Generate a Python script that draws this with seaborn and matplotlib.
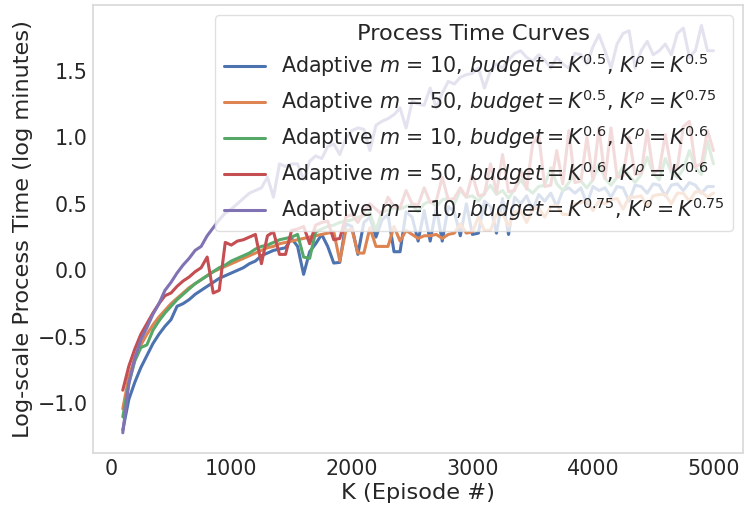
import numpy as np
import pandas as pd
import matplotlib
matplotlib.use("Agg")
import matplotlib.pyplot as plt
import seaborn as sns

# Episode grid
episodes = list(range(100, 5001, 50))

labels = [
    r"Adaptive $m$ = 10, $budget = K^{0.5}$, $K^{\rho} = K^{0.5}$",
    r"Adaptive $m$ = 50, $budget = K^{0.5}$, $K^{\rho} = K^{0.75}$",
    r"Adaptive $m$ = 10, $budget = K^{0.6}$, $K^{\rho} = K^{0.6}$",
    r"Adaptive $m$ = 50, $budget = K^{0.6}$, $K^{\rho} = K^{0.6}$",
    r"Adaptive $m$ = 10, $budget = K^{0.75}$, $K^{\rho} = K^{0.75}$",
]

blue = [
    -1.20, -0.97, -0.84, -0.73, -0.64, -0.55, -0.48, -0.42, -0.37, -0.27,
    -0.25, -0.22, -0.18, -0.15, -0.12, -0.09, -0.06, -0.04, -0.02, 0.00,
    0.02, 0.05, 0.07, 0.11, 0.13, 0.15, 0.16, 0.17, 0.24, 0.18,
    -0.03, 0.14, 0.20, 0.27, 0.18, 0.055, 0.06, 0.35, 0.33, 0.12,
    0.36, 0.40, 0.25, 0.38, 0.42, 0.14, 0.14, 0.44, 0.40, 0.22,
    0.45, 0.22, 0.47, 0.22, 0.48, 0.44, 0.26, 0.50, 0.27, 0.28,
    0.52, 0.48, 0.28, 0.54, 0.27, 0.55, 0.50, 0.56, 0.45, 0.57,
    0.52, 0.58, 0.48, 0.60, 0.62, 0.58, 0.62, 0.50, 0.63, 0.60,
    0.62, 0.55, 0.63, 0.62, 0.52, 0.64, 0.63, 0.58, 0.65, 0.64,
    0.56, 0.64, 0.65, 0.60, 0.66, 0.64, 0.58, 0.63, 0.63,
]

orange = [
    -1.04, -0.80, -0.66, -0.56, -0.48, -0.41, -0.35, -0.30, -0.25, -0.21,
    -0.17, -0.13, -0.10, -0.07, -0.04, -0.01, 0.01, 0.03, 0.05, 0.07,
    0.09, 0.11, 0.13, 0.15, 0.17, 0.18, 0.20, 0.21, 0.22, 0.23,
    0.24, 0.25, 0.26, 0.27, 0.28, 0.29, 0.07, 0.30, 0.31, 0.13,
    0.13, 0.32, 0.18, 0.18, 0.18, 0.33, 0.22, 0.30, 0.27, 0.24,
    0.26, 0.26, 0.27, 0.24, 0.27, 0.28, 0.35, 0.28, 0.29, 0.40,
    0.30, 0.30, 0.42, 0.43, 0.33, 0.44, 0.45, 0.36, 0.46, 0.47,
    0.40, 0.48, 0.49, 0.42, 0.42, 0.50, 0.51, 0.52, 0.45, 0.52,
    0.50, 0.53, 0.54, 0.46, 0.55, 0.55, 0.56, 0.48, 0.56, 0.57,
    0.57, 0.50, 0.58, 0.58, 0.52, 0.59, 0.59, 0.55, 0.58,
]

green = [
    -1.10, -0.85, -0.68, -0.58, -0.56, -0.45, -0.38, -0.32, -0.27, -0.22,
    -0.18, -0.14, -0.10, -0.07, -0.04, -0.01, 0.02, 0.04, 0.07, 0.09,
    0.11, 0.13, 0.16, 0.18, 0.19, 0.21, 0.23, 0.24, 0.25, 0.27,
    0.10, 0.09, 0.29, 0.31, 0.33, 0.34, 0.36, 0.37, 0.38, 0.40,
    0.41, 0.43, 0.30, 0.44, 0.45, 0.47, 0.46, 0.48, 0.49, 0.44,
    0.50, 0.52, 0.48, 0.53, 0.54, 0.50, 0.60, 0.55, 0.56, 0.52,
    0.58, 0.64, 0.57, 0.60, 0.54, 0.61, 0.68, 0.62, 0.58, 0.63,
    0.64, 0.77, 0.65, 0.60, 0.66, 0.72, 0.67, 0.62, 0.68, 0.80,
    0.69, 0.64, 0.70, 0.78, 0.71, 0.66, 0.72, 0.85, 0.73, 0.68,
    0.84, 0.74, 0.70, 0.76, 0.90, 0.77, 0.72, 0.97, 0.80,
]

red = [
    -0.90, -0.72, -0.59, -0.48, -0.40, -0.32, -0.25, -0.19, -0.17, -0.12,
    -0.08, -0.05, -0.01, 0.02, 0.10, -0.17, -0.15, 0.21, 0.19, 0.22,
    0.23, 0.25, 0.27, 0.05, 0.26, 0.29, 0.12, 0.12, 0.30, 0.31,
    0.33, 0.20, 0.34, 0.36, 0.37, 0.23, 0.24, 0.40, 0.42, 0.36,
    0.44, 0.50, 0.46, 0.42, 0.55, 0.48, 0.47, 0.60, 0.50, 0.49,
    0.62, 0.51, 0.52, 0.70, 0.53, 0.54, 0.62, 0.55, 0.72, 0.56,
    0.57, 0.80, 0.58, 0.87, 0.59, 0.60, 0.75, 0.61, 0.95, 1.02,
    0.63, 0.64, 0.90, 0.65, 1.05, 0.66, 0.67, 1.00, 0.68, 1.07,
    0.69, 1.07, 0.70, 0.71, 1.00, 0.72, 0.73, 1.05, 0.74, 0.75,
    1.02, 0.76, 0.77, 1.08, 1.12, 0.78, 0.80, 1.05, 0.90,
]

purple = [
    -1.22, -0.85, -0.66, -0.52, -0.43, -0.33, -0.25, -0.15, -0.09, -0.02,
    0.04, 0.09, 0.15, 0.18, 0.26, 0.32, 0.38, 0.43, 0.46, 0.50,
    0.54, 0.58, 0.60, 0.62, 0.70, 0.55, 0.80, 0.78, 0.80, 0.80,
    0.68, 0.82, 0.86, 0.84, 0.93, 0.95, 0.87, 0.99, 1.05, 1.07,
    1.06, 0.90, 1.09, 1.12, 1.14, 1.17, 1.22, 1.07, 1.27, 1.25,
    1.24, 1.37, 1.22, 1.33, 1.42, 1.40, 1.45, 1.47, 1.48, 1.52,
    1.37, 1.50, 1.55, 1.52, 1.58, 1.63, 1.65, 1.60, 1.57, 1.62,
    1.58, 1.52, 1.60, 1.55, 1.52, 1.63, 1.62, 1.55, 1.68, 1.77,
    1.65, 1.52, 1.70, 1.78, 1.80, 1.52, 1.65, 1.72, 1.62, 1.65,
    1.70, 1.62, 1.78, 1.82, 1.60, 1.65, 1.84, 1.65, 1.65,
]

series = [blue, orange, green, red, purple]

frames = []
for lab, vals in zip(labels, series):
    frames.append(pd.DataFrame({"K": episodes, "y": vals, "curve": lab}))
df = pd.concat(frames, ignore_index=True)

sns.set_theme(context="notebook", style="white", font_scale=1.35)
plt.rcParams.update({
    "font.family": ["DejaVu Sans"],
    "axes.edgecolor": "0.85",
    "axes.linewidth": 1.25,
    "xtick.major.size": 0,
    "ytick.major.size": 0,
    "xtick.major.pad": 4,
    "ytick.major.pad": 4,
    "axes.labelpad": 3,
    "legend.edgecolor": "0.85",
})

fig, ax = plt.subplots(figsize=(7.46, 5.08), dpi=100)
sns.lineplot(data=df, x="K", y="y", hue="curve", hue_order=labels,
             palette="deep", linewidth=2.2, ax=ax)

ax.set_xlabel("K (Episode #)")
ax.set_ylabel("Log-scale Process Time (log minutes)")
ax.legend(title="Process Time Curves", loc="upper right", labelspacing=0.4)

fig.subplots_adjust(left=0.125, right=0.996, top=0.99, bottom=0.108)
fig.savefig("out.png", dpi=100)
